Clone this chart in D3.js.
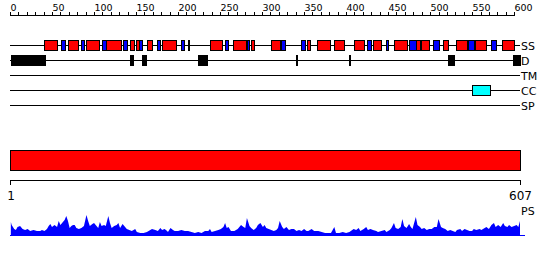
<!DOCTYPE html>
<html><head><meta charset="utf-8">
<script src="https://cdn.jsdelivr.net/npm/d3@7"></script>
<style>body{margin:0;background:#fff}svg{display:block}</style>
</head><body>
<script>
const seqLength = 607;
const rulerTicks = [0,50,100,150,200,250,300,350,400,450,500,550,600];
const trackNames = ["SS","D","TM","CC","SP"];
const helices = [[41,56],[69,81],[91,106],[114,132],[143,148],[150,154],[163,169],[181,198],[238,252],[265,281],[287,290],[311,321],[354,357],[365,381],[386,397],[410,421],[432,441],[457,472],[483,488],[489,499],[515,521],[531,544],[553,567],[586,600]];
const strands = [[61,65],[85,88],[109,114],[135,139],[154,157],[175,179],[203,207],[212,213],[256,260],[282,285],[322,327],[346,351],[425,430],[447,450],[475,483],[504,510],[545,552],[573,578]];
const disorder = [[1,42],[143,146],[157,162],[224,235],[340,341],[404,405],[521,528],[599,607]];
const transmembrane = [];
const coiledCoil = [[550,571]];
const signalPeptide = [];
const psPos = [1,2,5,7,9,12,15,18,21,24,28,32,36,38,41,44,46,48,50,53,56,58,60,62,65,67,69,71,73,75,77,79,82,85,88,91,93,95,98,100,103,105,107,109,112,114,117,119,121,124,127,129,131,134,136,139,142,145,149,151,155,159,163,165,169,173,176,179,181,184,187,188,191,194,196,200,204,208,212,216,220,224,228,232,236,238,240,244,248,251,254,256,258,260,263,267,271,273,275,278,280,282,285,287,290,293,295,298,301,303,305,308,311,314,317,319,321,324,326,329,332,335,338,341,344,347,350,353,355,359,362,365,367,371,375,379,382,386,388,392,396,400,404,409,412,415,417,421,424,426,429,432,436,438,442,446,448,452,454,457,459,462,465,467,469,472,475,477,479,483,485,488,490,493,496,499,502,505,508,510,513,515,518,521,524,527,530,532,536,538,541,544,547,550,552,555,559,561,565,567,570,573,576,578,581,584,587,589,592,594,597,600,603,605,607];
const psVal = [14,11,7,6,9,10,7,6,7,5,6,5,5,6,5,7,10,12,9,11,9,15,11,13,16,20,15,8,10,11,11,8,7,8,10,21,15,10,12,13,10,8,14,10,11,10,20,13,8,10,11,13,8,12,10,7,6,5,7,4,3,3,4,5,7,6,5,8,6,7,5,4,8,6,5,5,6,5,5,4,3,4,3,5,5,7,4,5,6,7,9,13,8,9,5,5,7,9,11,9,8,18,10,8,6,8,11,13,9,11,8,7,6,5,6,8,15,9,7,9,6,7,7,5,6,5,7,5,5,7,5,5,5,4,3,3,3,9,3,3,4,3,4,7,6,8,5,7,9,6,7,6,5,4,5,6,4,6,8,13,8,7,9,17,10,8,12,9,7,19,11,9,7,8,6,7,7,9,9,17,9,8,7,5,6,5,4,6,7,5,7,6,5,5,7,6,7,6,8,9,7,11,13,9,11,9,13,10,9,11,9,10,11,9,15];

const W = 550, H = 260;
const svg = d3.select("body").append("svg").attr("width", W).attr("height", H)
  .attr("font-family", "DejaVu Sans");

const x = d3.scaleLinear().domain([0, seqLength]).range([10, 520]);
const trackY = d3.scalePoint().domain(trackNames).range([45, 105]);

// top ruler
const ruler = svg.append("g").attr("shape-rendering", "crispEdges");
ruler.append("line").attr("x1", x(0)).attr("x2", x(600)).attr("y1", 15.5).attr("y2", 15.5).attr("stroke", "#000");
ruler.selectAll("line.t").data(d3.range(0, 601, 10)).join("line").attr("class","t")
  .attr("x1", d => Math.round(x(d)) + 0.5).attr("x2", d => Math.round(x(d)) + 0.5)
  .attr("y1", 12).attr("y2", 15.5).attr("stroke", "#000");
svg.selectAll("text.rl").data(rulerTicks).join("text").attr("class","rl")
  .attr("x", d => Math.round(x(d)) + 0.5).attr("y", 11).attr("font-size", 9.5)
  .text(d => d);

// tracks
const tracks = svg.append("g").attr("shape-rendering", "crispEdges");
trackNames.forEach(n => {
  tracks.append("line").attr("x1", x(0)).attr("x2", x(seqLength))
    .attr("y1", trackY(n) + 0.5).attr("y2", trackY(n) + 0.5).attr("stroke", "#000");
  svg.append("text").attr("x", 521).attr("y", trackY(n) + 4.5).attr("font-size", 11).text(n);
});
function boxes(data, track, fill) {
  tracks.selectAll(null).data(data).join("rect")
    .attr("x", d => x(d[0]) + 0.5).attr("width", d => Math.max(1, x(d[1]) - x(d[0])))
    .attr("y", trackY(track) - 5 + 0.5).attr("height", 10)
    .attr("fill", fill).attr("stroke", "#000");
}
boxes(helices, "SS", "#ff0000");
boxes(strands, "SS", "#0000ff");
boxes(disorder, "D", "#000000");
boxes(transmembrane, "TM", "#ff00ff");
boxes(coiledCoil, "CC", "#00ffff");
boxes(signalPeptide, "SP", "#00ff00");

// big red bar
svg.append("rect").attr("shape-rendering", "crispEdges")
  .attr("x", x(0) + 0.5).attr("y", 150.5).attr("width", x(seqLength) - x(0)).attr("height", 20)
  .attr("fill", "#ff0000").attr("stroke", "#000");

// bottom ruler
const br = svg.append("g").attr("shape-rendering", "crispEdges");
br.append("line").attr("x1", x(0)).attr("x2", x(seqLength) + 1).attr("y1", 180.5).attr("y2", 180.5).attr("stroke", "#000");
[0, seqLength].forEach(v => br.append("line").attr("x1", x(v) + 0.5).attr("x2", x(v) + 0.5)
  .attr("y1", 180.5).attr("y2", 185).attr("stroke", "#000"));
svg.append("text").attr("x", x(0) + 1).attr("y", 200).attr("font-size", 12).attr("text-anchor", "middle").text("1");
svg.append("text").attr("x", x(seqLength) + 0.5).attr("y", 200).attr("font-size", 12).attr("text-anchor", "middle").text(seqLength);
svg.append("text").attr("x", 521).attr("y", 215).attr("font-size", 11).text("PS");

// PS profile
const yPs = d3.scaleLinear().domain([0, 22]).range([236, 214]);
const psData = psPos.map((p, i) => [p, psVal[i]]);
svg.append("path").datum(psData)
  .attr("d", d3.area().x(d => x(d[0])).y0(yPs(0)).y1(d => yPs(d[1])))
  .attr("fill", "#0000ff");
svg.append("line").attr("shape-rendering", "crispEdges").attr("x1", x(0)).attr("x2", 525)
  .attr("y1", 235.5).attr("y2", 235.5).attr("stroke", "#0000ff");
</script>
</body></html>
